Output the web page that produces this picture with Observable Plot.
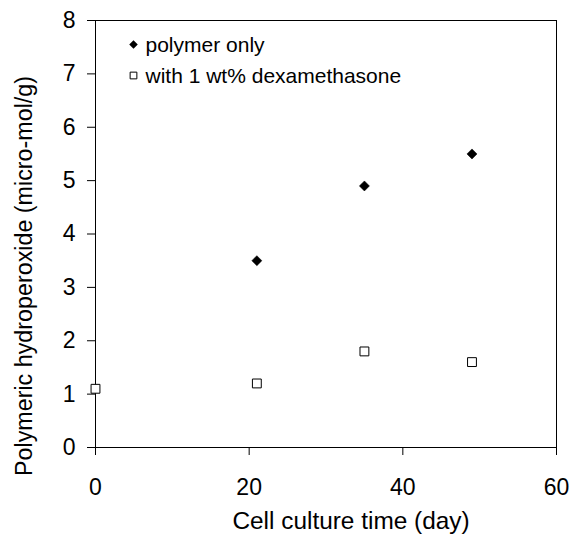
<!DOCTYPE html>
<html>
<head>
<meta charset="utf-8">
<script src="https://cdn.jsdelivr.net/npm/d3@7"></script>
<script src="https://cdn.jsdelivr.net/npm/@observablehq/plot@0.6"></script>
<style>
  body { margin: 0; background: #fff; }
  #chart { position: relative; width: 571px; height: 535px; }
</style>
</head>
<body>
<div id="chart"></div>
<script>
const days = [21, 35, 49];
const polymerOnly = [3.5, 4.9, 5.5];
const dexDays = [0, 21, 35, 49];
const withDex = [1.1, 1.2, 1.8, 1.6];
const xTicks = [0, 20, 40, 60];
const yTicks = [0, 1, 2, 3, 4, 5, 6, 7, 8];
const seriesNames = ["polymer only", "with 1 wt% dexamethasone"];

const polyData = days.map((d, i) => ({day: d, value: polymerOnly[i]}));
const dexData = dexDays.map((d, i) => ({day: d, value: withDex[i]}));

const font = "Liberation Sans, Arial, sans-serif";

const chart = Plot.plot({
  width: 571,
  height: 535,
  marginLeft: 95,
  marginRight: 15,
  marginTop: 20,
  marginBottom: 88,
  style: {fontFamily: font, fontSize: "23px", color: "#000", background: "#fff"},
  x: {domain: [0, 60]},
  y: {domain: [0, 8]},
  marks: [
    Plot.frame({stroke: "#000", strokeWidth: 1}),
    Plot.axisX({ticks: xTicks, tickSize: 8, tickPadding: 23, fontSize: 23, label: null, stroke: "#000"}),
    Plot.axisY({ticks: yTicks, tickSize: 8, tickPadding: 12, fontSize: 23, label: null, stroke: "#000"}),
    Plot.text(["Cell culture time (day)"], {frameAnchor: "bottom", dx: 25, dy: 74, fontSize: 24.4, lineAnchor: "middle", textAnchor: "middle", text: d => d}),
    Plot.text(["Polymeric hydroperoxide (micro-mol/g)"], {frameAnchor: "left", dx: -71, dy: 42, rotate: -90, fontSize: 23.3, textAnchor: "middle", lineAnchor: "middle", text: d => d}),
    Plot.dot(dexData, {x: "day", y: "value", symbol: "square", r: 5, fill: "white", stroke: "#000", strokeWidth: 1}),
    Plot.dot(polyData, {x: "day", y: "value", symbol: "square", r: 4, rotate: 45, fill: "#000", stroke: "#000", strokeWidth: 0.5}),
    // legend
    Plot.dot([seriesNames[0]], {frameAnchor: "top-left", dx: 38, dy: 24, symbol: "square", r: 3.4, rotate: 45, fill: "#000"}),
    Plot.text([seriesNames[0]], {frameAnchor: "top-left", dx: 50, dy: 25, textAnchor: "start", lineAnchor: "middle", fontSize: 21, text: d => d}),
    Plot.dot([seriesNames[1]], {frameAnchor: "top-left", dx: 38, dy: 55, symbol: "square", r: 3.8, fill: "white", stroke: "#000", strokeWidth: 1}),
    Plot.text([seriesNames[1]], {frameAnchor: "top-left", dx: 50, dy: 56, textAnchor: "start", lineAnchor: "middle", fontSize: 21, text: d => d})
  ]
});
document.getElementById("chart").appendChild(chart);
</script>
</body>
</html>
